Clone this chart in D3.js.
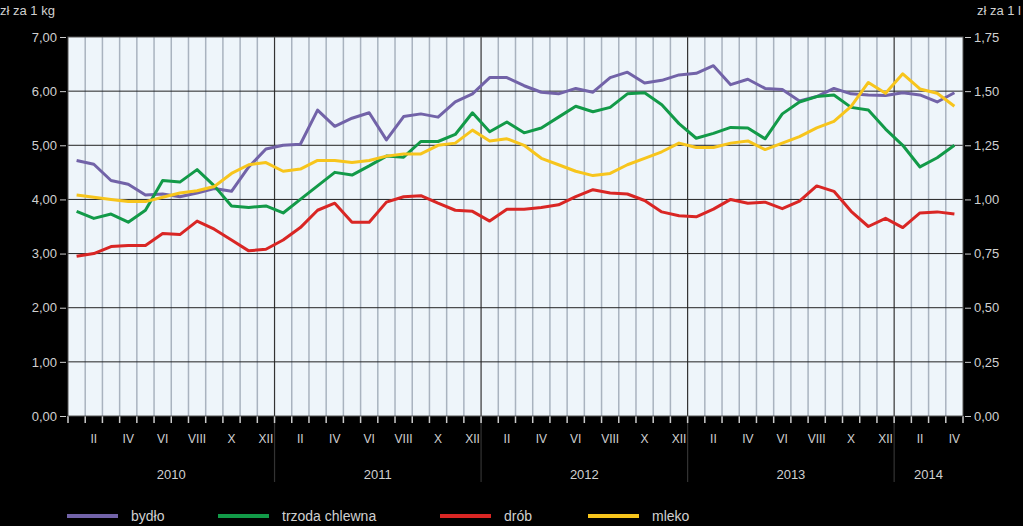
<!DOCTYPE html>
<html><head><meta charset="utf-8">
<script src="https://cdn.jsdelivr.net/npm/d3@7"></script>
<style>body{margin:0;background:#000}text{font-family:"Liberation Sans",Arial,sans-serif;fill:#d0d0d0}</style>
</head><body><svg width="1023" height="526"></svg>
<script>
var years = ["2010", "2011", "2012", "2013", "2014"];
var romans = ["I","II","III","IV","V","VI","VII","VIII","IX","X","XI","XII"];
var bydlo = [4.72,4.65,4.35,4.28,4.08,4.1,4.05,4.12,4.2,4.15,4.6,4.93,
  5.0,5.02,5.65,5.35,5.5,5.6,5.1,5.53,5.58,5.52,5.8,5.95,
  6.25,6.25,6.1,5.98,5.95,6.05,5.98,6.25,6.35,6.15,6.2,6.3,
  6.33,6.47,6.12,6.22,6.05,6.03,5.82,5.9,6.05,5.95,5.93,5.92,
  5.97,5.93,5.8,5.97];
var trzoda = [3.78,3.65,3.73,3.58,3.8,4.35,4.32,4.55,4.25,3.88,3.85,3.88,
  3.75,4.0,4.25,4.5,4.45,4.62,4.8,4.78,5.07,5.07,5.2,5.6,
  5.25,5.43,5.23,5.32,5.52,5.72,5.62,5.7,5.95,5.97,5.75,5.4,
  5.13,5.22,5.33,5.32,5.12,5.58,5.8,5.9,5.93,5.7,5.65,5.3,
  5.0,4.6,4.77,5.0];
var drob = [2.95,3.0,3.13,3.15,3.15,3.37,3.35,3.6,3.45,3.25,3.05,3.08,
  3.25,3.48,3.8,3.93,3.58,3.58,3.95,4.05,4.07,3.93,3.8,3.78,
  3.6,3.82,3.82,3.85,3.9,4.05,4.18,4.12,4.1,3.98,3.77,3.7,
  3.68,3.82,4.0,3.93,3.95,3.83,3.97,4.25,4.15,3.78,3.5,3.65,
  3.48,3.75,3.77,3.73];
// mleko on right axis (zł za 1 l)
var mleko = [1.02,1.01,1.00,0.99,0.99,1.01,1.03,1.04,1.06,1.12,1.16,1.17,
  1.13,1.14,1.18,1.18,1.17,1.18,1.20,1.21,1.21,1.25,1.26,1.32,
  1.27,1.28,1.25,1.19,1.16,1.13,1.11,1.12,1.16,1.19,1.22,1.26,
  1.24,1.24,1.26,1.27,1.23,1.26,1.29,1.33,1.36,1.43,1.54,1.49,
  1.58,1.51,1.49,1.43];

var series = [
  {name: "bydło", data: bydlo, color: "#7263a8", right: false},
  {name: "trzoda chlewna", data: trzoda, color: "#129a48", right: false},
  {name: "drób", data: drob, color: "#d92624", right: false},
  {name: "mleko", data: mleko, color: "#f7c51c", right: true}
];

var svg = d3.select("svg");
var L = 68, R = 963, T = 37, B = 416;
var n = bydlo.length;
var x = d3.scaleLinear().domain([0, n]).range([L, R]);
var yL = d3.scaleLinear().domain([0, 7]).range([B, T]);
var yR = d3.scaleLinear().domain([0, 1.75]).range([B, T]);

svg.append("rect").attr("x", L).attr("y", T).attr("width", R - L).attr("height", B - T).attr("fill", "#eef5fa");

// month grid
d3.range(1, n).forEach(function(i) {
  var yb = i % 12 == 0;
  svg.append("line").attr("x1", x(i)).attr("x2", x(i)).attr("y1", T).attr("y2", yb ? 482 : B)
    .attr("stroke", yb ? "#333" : "#a9b3bf").attr("stroke-width", yb ? 1.2 : 1.5);
});
d3.range(0, n + 1).forEach(function(i) {
  svg.append("line").attr("x1", x(i)).attr("x2", x(i)).attr("y1", B).attr("y2", B + 7)
    .attr("stroke", "#ccc").attr("stroke-width", 1.5);
});
// horizontal grid
d3.range(1, 7).forEach(function(v) {
  svg.append("line").attr("x1", L).attr("x2", R).attr("y1", yL(v)).attr("y2", yL(v)).attr("stroke", "#222").attr("stroke-width", 1);
});
svg.append("rect").attr("x", L).attr("y", T).attr("width", R - L).attr("height", B - T).attr("fill", "none").attr("stroke", "#555");

var fmt = function(d) { return d.toFixed(2).replace(".", ","); };
var axL = svg.append("g").attr("transform", "translate(" + (L - 2) + ",0)")
  .call(d3.axisLeft(yL).tickValues(d3.range(0, 8)).tickFormat(fmt).tickSize(6).tickSizeOuter(0));
var axR = svg.append("g").attr("transform", "translate(" + (R + 2) + ",0)")
  .call(d3.axisRight(yR).tickValues(d3.range(0, 1.76, 0.25)).tickFormat(fmt).tickSize(6).tickSizeOuter(0));
[axL, axR].forEach(function(a) {
  a.select(".domain").remove();
  a.selectAll("line").attr("stroke", "#ccc");
  a.selectAll("text").attr("font-size", 13).attr("fill", "#d0d0d0");
});

// month labels
d3.range(n).forEach(function(i) {
  if (i % 2 == 1) svg.append("text").attr("x", x(i + 0.5)).attr("y", 443).attr("text-anchor", "middle")
    .attr("font-size", 12).text(romans[i % 12]);
});
years.forEach(function(yv, k) {
  var a = k * 12, b = Math.min(n, a + 12);
  svg.append("text").attr("x", x((a + b) / 2)).attr("y", 479).attr("text-anchor", "middle").attr("font-size", 13).text(yv);
});

svg.append("text").attr("x", 0).attr("y", 15).attr("font-size", 13).text("zł za 1 kg");
svg.append("text").attr("x", 1021).attr("y", 15).attr("text-anchor", "end").attr("font-size", 13).text("zł za 1 l");

series.forEach(function(s) {
  var yy = s.right ? yR : yL;
  var line = d3.line().x(function(d, i) { return x(i + 0.5); }).y(function(d) { return yy(d); });
  svg.append("path").datum(s.data).attr("d", line).attr("fill", "none")
    .attr("stroke", s.color).attr("stroke-width", 3).attr("stroke-linejoin", "round");
});

// legend
var lx = [67, 218, 440, 588];
series.forEach(function(s, k) {
  svg.append("line").attr("x1", lx[k]).attr("x2", lx[k] + 51).attr("y1", 516).attr("y2", 516)
    .attr("stroke", s.color).attr("stroke-width", 4);
  svg.append("text").attr("x", lx[k] + 64).attr("y", 521).attr("font-size", 14).text(s.name);
});
</script></body></html>
